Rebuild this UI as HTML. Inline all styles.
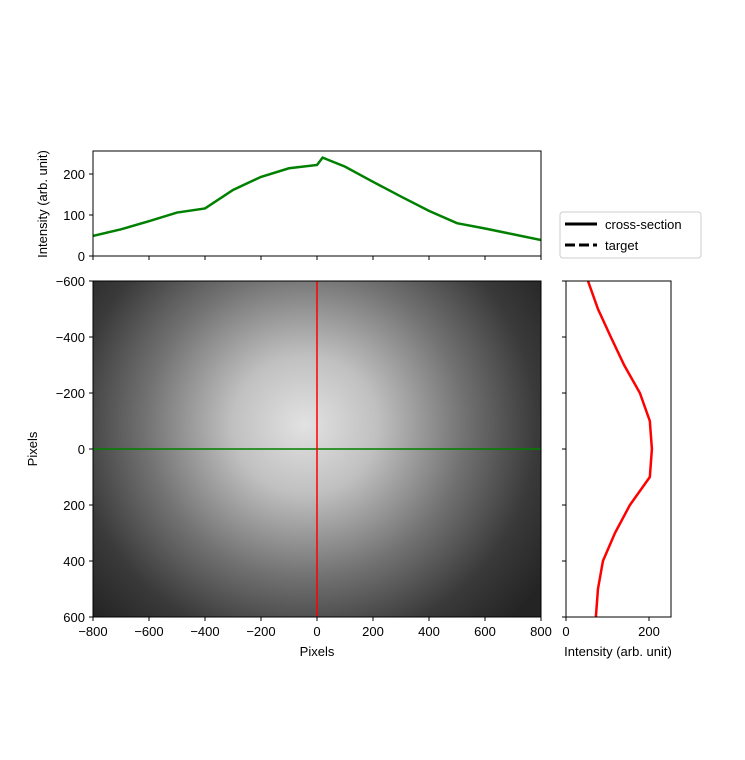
<!DOCTYPE html>
<html><head><meta charset="utf-8"><style>
html,body{margin:0;padding:0;background:#fff;}
svg{display:block;font-family:"Liberation Sans","DejaVu Sans",sans-serif;}
</style></head><body>
<svg id="fig" width="745" height="760" viewBox="0 0 745 760">
<defs>
<radialGradient id="glow" gradientUnits="userSpaceOnUse" cx="305" cy="425" r="290" gradientTransform="translate(305 425) scale(1 0.95) translate(-305 -425)">
<stop offset="0" stop-color="#e2e2e2"/>
<stop offset="0.25" stop-color="#c0c0c0"/>
<stop offset="0.55" stop-color="#727272"/>
<stop offset="0.8" stop-color="#3a3a3a"/>
<stop offset="1" stop-color="#242424"/>
</radialGradient>
<clipPath id="cTop"><rect x="93" y="151" width="448" height="105"/></clipPath>
<clipPath id="cRight"><rect x="566" y="281" width="105" height="336"/></clipPath>
</defs>
<g id="root"></g>
</svg>
<script>
// Top profile (horizontal cross-section)
const topX = [-800,-700,-600,-500,-400,-300,-200,-100,0,20,100,200,300,400,500,600,700,800];
const topY = [49,65,85,106,116,161,193,214,222,240,218,181,145,110,80,67,53,39];
// Right profile (vertical cross-section)
const rightPix = [-600,-500,-400,-300,-200,-100,0,100,200,300,400,500,600];
const rightVal = [53,77,108,140,178,202,207,202,154,118,89,77,72];
const mainXTicks = [-800,-600,-400,-200,0,200,400,600,800];
const mainYTicks = [-600,-400,-200,0,200,400,600];
const intTicks = [0,100,200];
const rightIntTicks = [0,200];
const crossX = 0, crossY = 0;

const NS='http://www.w3.org/2000/svg';
const root=document.getElementById('root');
function mk(tag,attrs,parent){const e=document.createElementNS(NS,tag);for(const k in attrs)e.setAttribute(k,attrs[k]);(parent||root).appendChild(e);return e;}
function txt(x,y,s,anchor,extra){const t=mk('text',Object.assign({x:x,y:y,'font-size':13,'text-anchor':anchor||'middle',fill:'#000'},extra||{}));t.textContent=s;return t;}
const fmt=v=>v<0?'\u2212'+(-v):String(v);

const px=v=>93+(v+800)/1600*448;
const py=v=>281+(v+600)/1200*336;
const ti=v=>256-v*0.41;
const ri=v=>566+v*0.415;

const img=mk('rect',{x:93,y:281,width:448,height:336,fill:'url(#glow)'});


const hl=mk('line',{x1:93,x2:541,y1:py(crossY),y2:py(crossY),stroke:'#008000','stroke-width':1.5});


const vl=mk('line',{x1:px(crossX),x2:px(crossX),y1:281,y2:617,stroke:'#ff0000','stroke-width':1.5});


const mf=mk('rect',{x:93,y:281,width:448,height:336,fill:'none',stroke:'#000','stroke-width':1});


mainXTicks.forEach(v=>{mk('line',{x1:px(v),x2:px(v),y1:617,y2:621,stroke:'#000'});
 const t=txt(px(v),636,fmt(v));
 mk('line',{x1:px(v),x2:px(v),y1:256,y2:260,stroke:'#000'});});
mainYTicks.forEach(v=>{mk('line',{x1:89,x2:93,y1:py(v),y2:py(v),stroke:'#000'});
 const t=txt(85,py(v)+5,fmt(v),'end');
 mk('line',{x1:562,x2:566,y1:py(v),y2:py(v),stroke:'#000'});});
let t=txt(317,656,'Pixels');
t=txt(0,0,'Pixels','middle',{transform:'translate(37 449) rotate(-90)'});

const tl=mk('polyline',{points:topX.map((v,i)=>px(v)+','+ti(topY[i])).join(' '),fill:'none',stroke:'#008000','stroke-width':2.5,'clip-path':'url(#cTop)'});


const tf=mk('rect',{x:93,y:151,width:448,height:105,fill:'none',stroke:'#000'});


intTicks.forEach(v=>{mk('line',{x1:89,x2:93,y1:ti(v),y2:ti(v),stroke:'#000'});
 const l=txt(85,ti(v)+5,String(v),'end');});
t=txt(0,0,'Intensity (arb. unit)','middle',{transform:'translate(47 204) rotate(-90)'});

const rl=mk('polyline',{points:rightPix.map((v,i)=>ri(rightVal[i])+','+py(v)).join(' '),fill:'none',stroke:'#ff0000','stroke-width':2.5,'clip-path':'url(#cRight)'});


const rf=mk('rect',{x:566,y:281,width:105,height:336,fill:'none',stroke:'#000'});


rightIntTicks.forEach(v=>{mk('line',{x1:ri(v),x2:ri(v),y1:617,y2:621,stroke:'#000'});
 const l=txt(ri(v),636,String(v));});
t=txt(618,656,'Intensity (arb. unit)');

const lg=mk('g',{});


mk('rect',{x:560,y:212,width:141,height:46,rx:3,fill:'#fff',stroke:'#ccc'},lg);
mk('line',{x1:565,x2:597,y1:224,y2:224,stroke:'#000','stroke-width':3},lg);
mk('line',{x1:565,x2:597,y1:245,y2:245,stroke:'#000','stroke-width':3,'stroke-dasharray':'10 4'},lg);
let a=mk('text',{x:605,y:229,'font-size':13},lg);a.textContent='cross-section';
a=mk('text',{x:605,y:250,'font-size':13},lg);a.textContent='target';
</script>
</body></html>
